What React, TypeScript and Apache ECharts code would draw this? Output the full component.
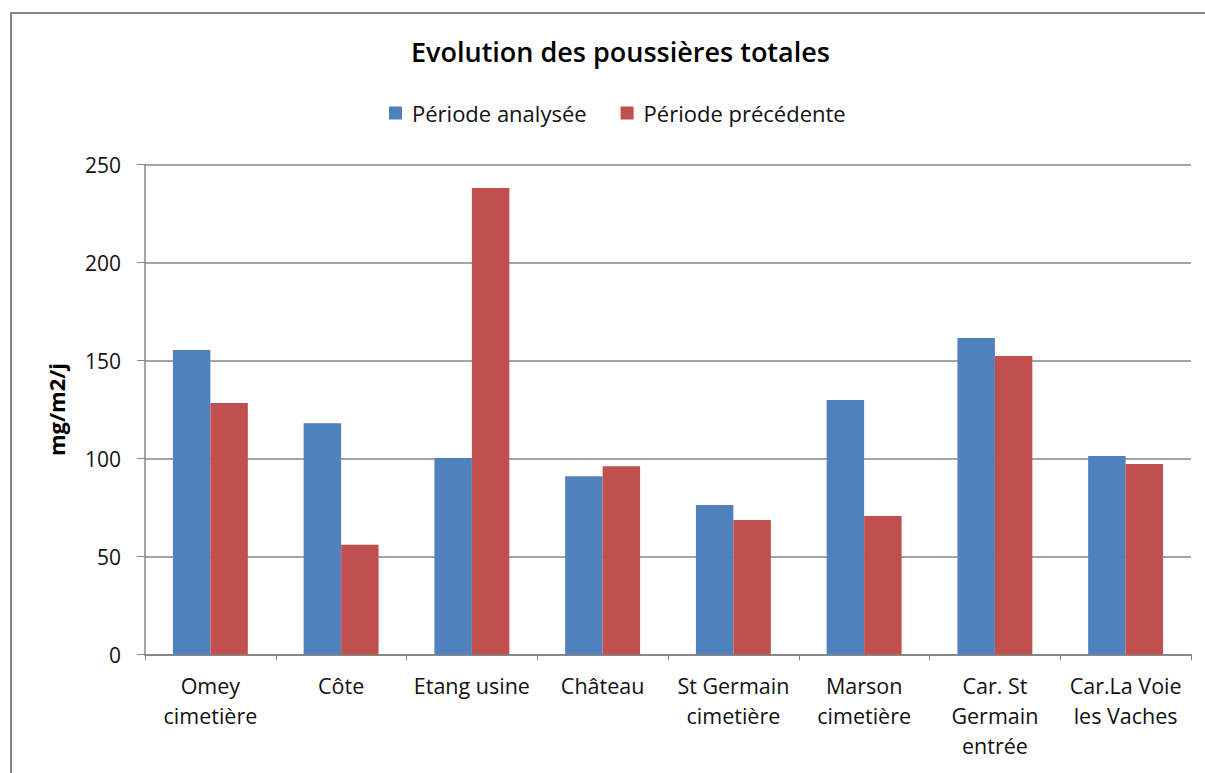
import React, { useEffect, useRef } from "react";
import * as echarts from "echarts";

const categories = [
  "Omey\ncimetière",
  "Côte",
  "Etang usine",
  "Château",
  "St Germain\ncimetière",
  "Marson\ncimetière",
  "Car. St\nGermain\nentrée",
  "Car.La Voie\nles Vaches",
];
const periodeAnalysee = [155.4, 118, 100.3, 91, 76.3, 129.8, 161.5, 101.3];
const periodePrecedente = [128.3, 56, 238, 96, 68.6, 70.7, 152.3, 97.2];
const seriesNames = ["Période analysée", "Période précédente"];
const titleText = "Evolution des poussières totales";
const yAxisName = "mg/m2/j";

const FONT = "'Open Sans', Lato, sans-serif";

export default function App() {
  const ref = useRef<HTMLDivElement>(null);
  useEffect(() => {
    if (!ref.current) return;
    const chart = echarts.init(ref.current, null, { renderer: "svg" });
    chart.setOption({
      animation: false,
      backgroundColor: "#ffffff",
      title: {
        text: titleText,
        left: 406,
        top: 33,
        textStyle: { fontFamily: FONT, fontSize: 27, fontWeight: 600, color: "#000" },
      },
      legend: {
        data: seriesNames,
        top: 97,
        left: 384,
        itemWidth: 13,
        itemHeight: 13,
        itemGap: 34,
        icon: "rect",
        textStyle: { fontFamily: FONT, fontSize: 22, color: "#111", padding: [0, 0, 0, 5] },
      },
      grid: { left: 145, right: 14, top: 164.5, bottom: 118.5, containLabel: false },
      graphic: [
        {
          type: "rect",
          shape: { x: 11, y: 13, width: 1300, height: 900 },
          style: { fill: "none", stroke: "#878787", lineWidth: 2 },
          silent: true,
        },
      ],
      xAxis: {
        type: "category",
        data: categories,
        axisLine: { show: true, lineStyle: { color: "#878787", width: 2 } },
        axisTick: { show: true, alignWithLabel: false, length: 6, lineStyle: { color: "#878787" } },
        axisLabel: {
          interval: 0,
          margin: 16,
          fontFamily: FONT,
          fontSize: 21.5,
          lineHeight: 30,
          color: "#111",
        },
      },
      yAxis: {
        type: "value",
        min: 0,
        max: 250,
        interval: 50,
        name: yAxisName,
        nameLocation: "middle",
        nameGap: 78,
        nameTextStyle: { fontFamily: FONT, fontSize: 22, fontWeight: "bold", color: "#000" },
        axisLine: { show: true, lineStyle: { color: "#878787", width: 1.5 } },
        axisTick: { show: true, length: 8, lineStyle: { color: "#878787" } },
        axisLabel: { fontFamily: FONT, fontSize: 21, color: "#111", margin: 24 },
        splitLine: { show: true, lineStyle: { color: "#878787", width: 1.5 } },
      },
      series: [
        {
          name: seriesNames[0],
          type: "bar",
          data: periodeAnalysee,
          itemStyle: { color: "#4F81BD" },
          barGap: "0%",
          barCategoryGap: "42.7%",
        },
        {
          name: seriesNames[1],
          type: "bar",
          data: periodePrecedente,
          itemStyle: { color: "#C0504D" },
          barGap: "0%",
          barCategoryGap: "42.7%",
        },
      ],
    });
    return () => chart.dispose();
  }, []);
  return (
    <div
      ref={ref}
      style={{ position: "fixed", left: 0, top: 0, width: 1205, height: 773, background: "#fff" }}
    />
  );
}
